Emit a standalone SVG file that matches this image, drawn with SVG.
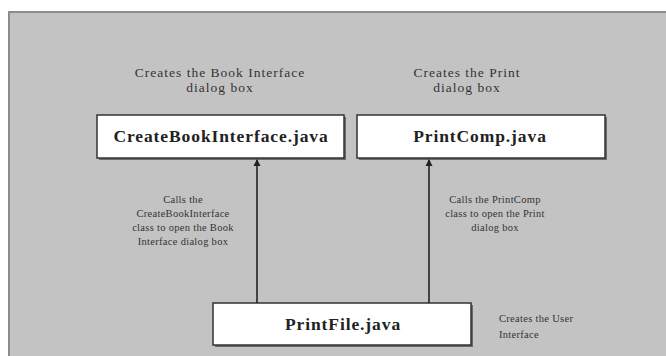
<svg xmlns="http://www.w3.org/2000/svg" width="666" height="356" viewBox="0 0 666 356">
<defs>
<style>
.box{fill:#ffffff;stroke:#333333;stroke-width:1.5}
.shadow{fill:#6a6a6a}
.lbl{font-family:"Liberation Serif",serif;font-weight:bold;font-size:17.5px;letter-spacing:0.9px;fill:#222222;text-anchor:middle}
.top{font-family:"Liberation Serif",serif;font-size:13.5px;letter-spacing:1px;fill:#333333;text-anchor:middle}
.note{font-family:"Liberation Serif",serif;font-size:10.5px;letter-spacing:0.3px;fill:#333333;text-anchor:middle}
.left{text-anchor:start}
.conn{stroke:#222222;stroke-width:1.6;fill:none}
</style>
<marker id="arr" markerWidth="8" markerHeight="8" refX="6" refY="4" orient="auto" markerUnits="userSpaceOnUse">
<path d="M0,0.5 L7,4 L0,7.5 Z" fill="#222222"/>
</marker>
</defs>
<rect x="0" y="0" width="666" height="356" fill="#ffffff"/>
<rect x="9" y="12" width="660" height="350" fill="#c3c3c3" stroke="#8c8c8c" stroke-width="2"/>
<g id="note-book">
<text class="top" x="220" y="77">Creates the Book Interface</text>
<text class="top" x="220" y="92">dialog box</text>
</g>
<g id="note-print">
<text class="top" x="467" y="77">Creates the Print</text>
<text class="top" x="467" y="92">dialog box</text>
</g>
<g id="CreateBookInterface">
<rect class="shadow" x="99" y="117" width="247" height="43"/>
<rect class="box" x="97" y="115" width="247" height="43"/>
<text class="lbl" x="221" y="142">CreateBookInterface.java</text>
</g>
<g id="PrintComp">
<rect class="shadow" x="359" y="117" width="248" height="43"/>
<rect class="box" x="357" y="115" width="248" height="43"/>
<text class="lbl" x="480" y="142">PrintComp.java</text>
</g>
<g id="PrintFile">
<rect class="shadow" x="215" y="305" width="258" height="42"/>
<rect class="box" x="213" y="303" width="258" height="42"/>
<text class="lbl" x="343" y="330">PrintFile.java</text>
</g>
<g id="connectors">
<line class="conn" x1="257" y1="303" x2="257" y2="160" marker-end="url(#arr)"/>
<line class="conn" x1="429" y1="303" x2="429" y2="160" marker-end="url(#arr)"/>
</g>
<g id="note-calls-book">
<text class="note" x="183" y="203">Calls the</text>
<text class="note" x="183" y="217">CreateBookInterface</text>
<text class="note" x="183" y="231">class to open the Book</text>
<text class="note" x="183" y="245">Interface dialog box</text>
</g>
<g id="note-calls-print">
<text class="note" x="495" y="203">Calls the PrintComp</text>
<text class="note" x="495" y="217">class to open the Print</text>
<text class="note" x="495" y="231">dialog box</text>
</g>
<g id="note-user">
<text class="note left" x="499" y="322">Creates the User</text>
<text class="note left" x="499" y="338">Interface</text>
</g>
</svg>
